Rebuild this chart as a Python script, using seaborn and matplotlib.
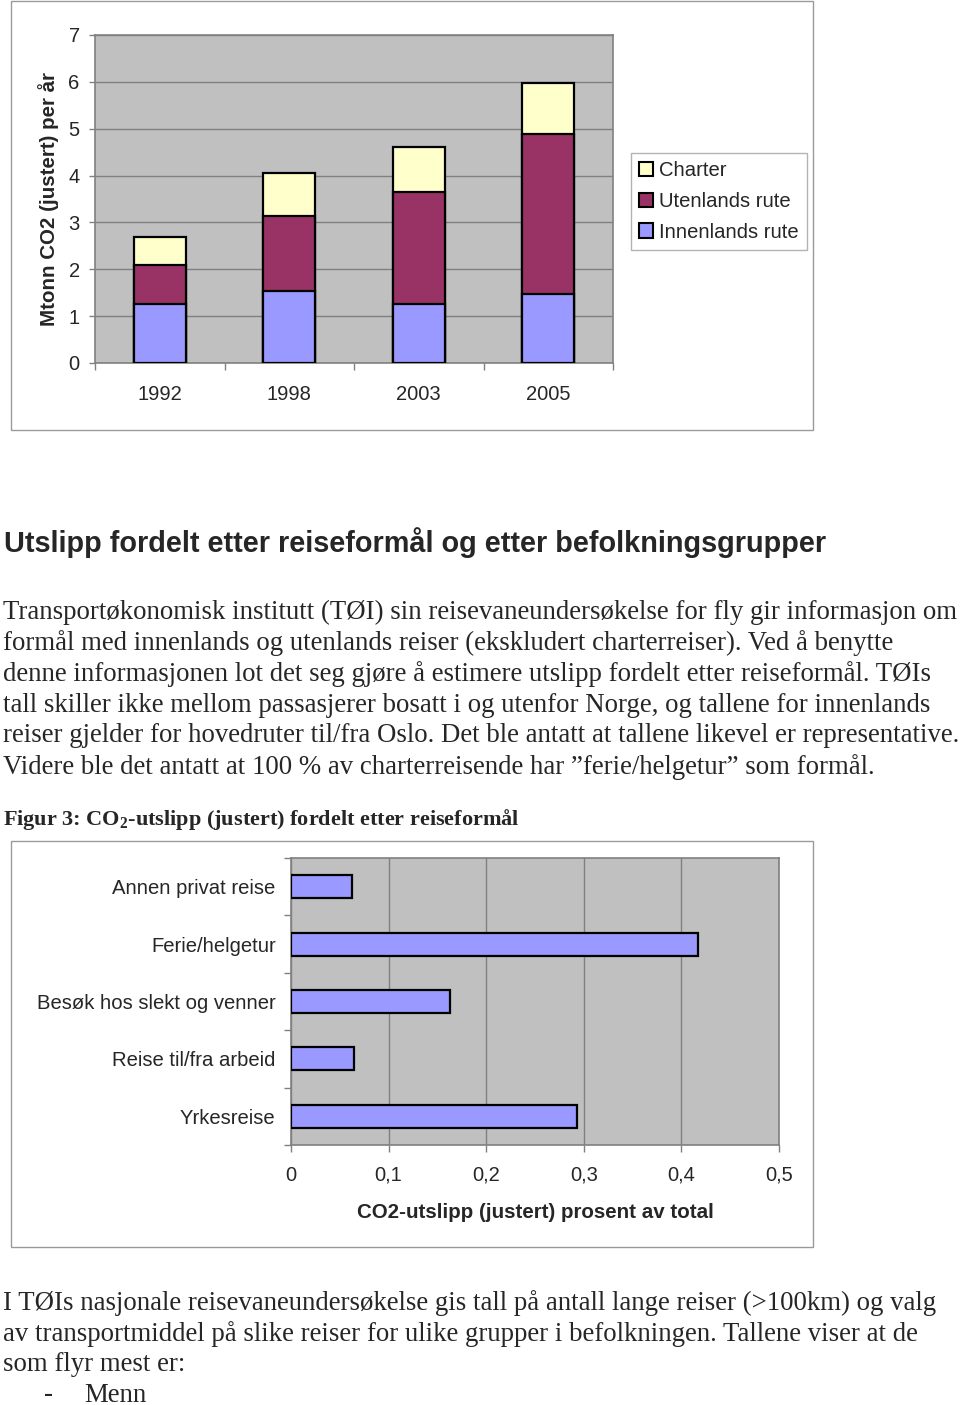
import matplotlib
matplotlib.use("Agg")
import matplotlib.pyplot as plt
from matplotlib.patches import Rectangle, Patch
from matplotlib.ticker import FixedLocator
import seaborn as sns
import pandas as pd
import numpy as np

# ---------------- data ----------------
years = ["1992", "1998", "2003", "2005"]
innenlands = [1.26, 1.54, 1.26, 1.47]
utenlands = [0.84, 1.60, 2.39, 3.42]
charter = [0.59, 0.92, 0.96, 1.08]
series_names = ["Charter", "Utenlands rute", "Innenlands rute"]
y_ticks_top = [0, 1, 2, 3, 4, 5, 6, 7]

purposes = ["Annen privat reise", "Ferie/helgetur", "Besøk hos slekt og venner",
            "Reise til/fra arbeid", "Yrkesreise"]
purpose_share = [0.062, 0.417, 0.163, 0.065, 0.293]
x_ticks_bottom = [0, 0.1, 0.2, 0.3, 0.4, 0.5]
x_tick_labels_bottom = ["0", "0,1", "0,2", "0,3", "0,4", "0,5"]

heading = "Utslipp fordelt etter reiseformål og etter befolkningsgrupper"
paragraph1 = [
    "Transportøkonomisk institutt (TØI) sin reisevaneundersøkelse for fly gir informasjon om",
    "formål med innenlands og utenlands reiser (ekskludert charterreiser). Ved å benytte",
    "denne informasjonen lot det seg gjøre å estimere utslipp fordelt etter reiseformål. TØIs",
    "tall skiller ikke mellom passasjerer bosatt i og utenfor Norge, og tallene for innenlands",
    "reiser gjelder for hovedruter til/fra Oslo. Det ble antatt at tallene likevel er representative.",
    "Videre ble det antatt at 100 % av charterreisende har \u201dferie/helgetur\u201d som formål.",
]
caption = r"Figur 3: CO$_2$-utslipp (justert) fordelt etter reiseformål"
paragraph2 = [
    "I TØIs nasjonale reisevaneundersøkelse gis tall på antall lange reiser (>100km) og valg",
    "av transportmiddel på slike reiser for ulike grupper i befolkningen. Tallene viser at de",
    "som flyr mest er:",
]
bullet = "Menn"

# ---------------- style ----------------
sns.set_theme(style="white")
plt.rcParams["font.family"] = ["Liberation Sans", "DejaVu Sans"]
plt.rcParams["mathtext.fontset"] = "custom"
plt.rcParams["mathtext.rm"] = "Liberation Serif:bold"
plt.rcParams["mathtext.default"] = "rm"

C_INN = "#9999FF"
C_UTE = "#993366"
C_CHA = "#FFFFCC"
BG = "#C0C0C0"
GRID = "#808080"

W, H = 960, 1405
fig = plt.figure(figsize=(W / 100, H / 100), dpi=100)
fig.patch.set_facecolor("white")


def fx(px):
    return px / W


def fy(py):
    return 1 - py / H


# outer frames
for (x0, y0, x1, y1) in [(11, 1, 813, 430), (11, 841, 813, 1247)]:
    fig.add_artist(Rectangle((fx(x0), fy(y1)), fx(x1 - x0), (y1 - y0) / H,
                             transform=fig.transFigure, fill=False,
                             edgecolor="#9a9a9a", lw=1.0))

# ---------------- top stacked chart ----------------
ax1 = fig.add_axes([fx(95), fy(363), fx(613 - 95), (363 - 35) / H])
ax1.set_facecolor(BG)
df = pd.DataFrame({"year": years, "inn": innenlands, "ute": utenlands, "cha": charter})
df["lvl2"] = df["inn"] + df["ute"]
df["lvl3"] = df["lvl2"] + df["cha"]
for col, c in [("lvl3", C_CHA), ("lvl2", C_UTE), ("inn", C_INN)]:
    sns.barplot(data=df, x="year", y=col, color=c, saturation=1, width=0.4,
                edgecolor="black", linewidth=1.6, ax=ax1, zorder=3)
ax1.set_ylim(0, 7)
ax1.set_xlim(-0.5, 3.5)
ax1.set_yticks(y_ticks_top)
ax1.yaxis.grid(True, color=GRID, lw=1.0)
ax1.set_axisbelow(True)
ax1.set_xlabel("")
ax1.set_ylabel("Mtonn CO2 (justert) per år", fontsize=14.8, fontweight="bold",
               labelpad=7)
ax1.tick_params(axis="y", length=4, width=1, color=GRID, direction="out",
                labelsize=14.5, pad=7, left=True)
ax1.tick_params(axis="x", which="major", length=0, labelsize=14.5, pad=15.5)
ax1.xaxis.set_minor_locator(FixedLocator([-0.5, 0.5, 1.5, 2.5, 3.5]))
ax1.tick_params(axis="x", which="minor", length=5, width=1, color=GRID,
                direction="out", bottom=True)
for s in ax1.spines.values():
    s.set_color(GRID)
    s.set_linewidth(1.2)

handles = [Patch(facecolor=c, edgecolor="black", linewidth=1.5)
           for c in [C_CHA, C_UTE, C_INN]]
leg = fig.legend(handles, series_names, loc="upper left",
                 bbox_to_anchor=(fx(631), fy(153)), bbox_transform=fig.transFigure,
                 fontsize=14.6, frameon=True, fancybox=False, handlelength=0.7,
                 handleheight=0.7, handletextpad=0.3, labelspacing=0.58,
                 borderpad=0.4, borderaxespad=0)
leg.get_frame().set_edgecolor("#a0a0a0")
leg.get_frame().set_linewidth(1.0)

# ---------------- texts ----------------
fig.text(fx(4), fy(543), heading, fontsize=20.8, fontweight="bold",
         ha="left", va="center", family=["Liberation Sans"])
for i, line in enumerate(paragraph1):
    fig.text(fx(3), fy(612 + i * 31), line, fontsize=19.25, ha="left",
             va="center", family=["Liberation Serif"])
fig.text(fx(3), fy(820), caption, fontsize=16, fontweight="bold",
         ha="left", va="center", family=["Liberation Serif"])
for i, line in enumerate(paragraph2):
    fig.text(fx(3), fy(1303 + i * 30.7), line, fontsize=19.25, ha="left",
             va="center", family=["Liberation Serif"])
fig.text(fx(44), fy(1395), "-", fontsize=19.25, ha="left", va="center",
         family=["Liberation Serif"])
fig.text(fx(84), fy(1395), bullet, fontsize=19.25, ha="left", va="center",
         family=["Liberation Serif"])

# ---------------- bottom horizontal chart ----------------
ax2 = fig.add_axes([fx(291), fy(1145), fx(779 - 291), (1145 - 858) / H])
ax2.set_facecolor(BG)
df2 = pd.DataFrame({"purpose": purposes, "share": purpose_share})
sns.barplot(data=df2, x="share", y="purpose", orient="h", color=C_INN,
            saturation=1, width=0.4, edgecolor="black", linewidth=1.6, ax=ax2,
            zorder=3)
ax2.set_xlim(0, 0.5)
ax2.set_ylim(4.5, -0.5)
ax2.set_xticks(x_ticks_bottom)
ax2.set_xticklabels(x_tick_labels_bottom)
ax2.xaxis.grid(True, color=GRID, lw=1.0)
ax2.set_axisbelow(True)
ax2.set_ylabel("")
ax2.set_xlabel("CO2-utslipp (justert) prosent av total", fontsize=14.8,
               fontweight="bold", labelpad=13)
ax2.tick_params(axis="x", length=5, width=1, color=GRID, direction="out",
                labelsize=14.5, pad=10, bottom=True)
ax2.tick_params(axis="y", which="major", length=0, labelsize=14.6, pad=11)
ax2.yaxis.set_minor_locator(FixedLocator([-0.5, 0.5, 1.5, 2.5, 3.5, 4.5]))
ax2.tick_params(axis="y", which="minor", length=5, width=1, color=GRID,
                direction="out", left=True)
for s in ax2.spines.values():
    s.set_color(GRID)
    s.set_linewidth(1.2)

fig.savefig("out.png", dpi=100, facecolor="white")
